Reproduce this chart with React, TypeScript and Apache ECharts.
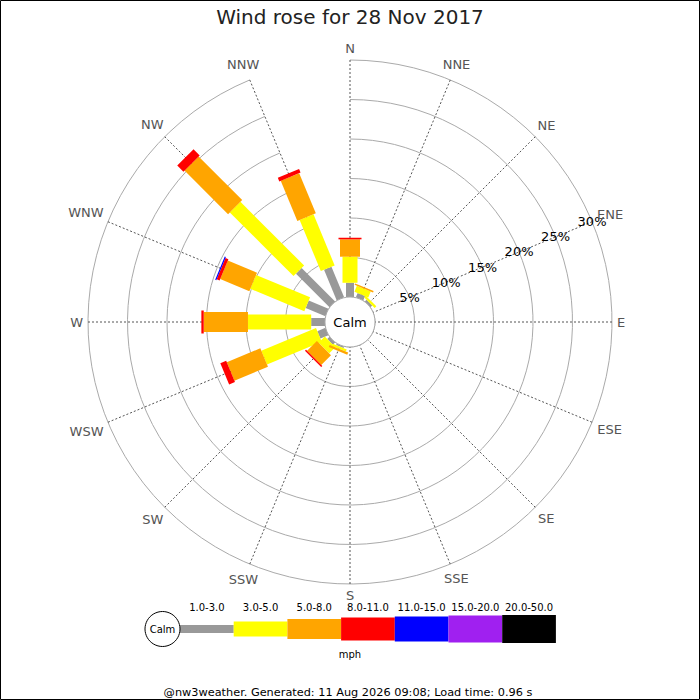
import React, { useEffect, useRef } from "react";
import * as echarts from "echarts";

const TITLE = "Wind rose for 28 Nov 2017";
const FOOTER = "@nw3weather. Generated: 11 Aug 2026 09:08; Load time: 0.96 s";
const DIRECTIONS = ["N", "NNE", "NE", "ENE", "E", "ESE", "SE", "SSE", "S", "SSW", "SW", "WSW", "W", "WNW", "NW", "NNW"];
const SPEED_BANDS = ["1.0-3.0", "3.0-5.0", "5.0-8.0", "8.0-11.0", "11.0-15.0", "15.0-20.0", "20.0-50.0"];
const UNIT = "mph";
const PERCENT_TICKS = [5, 10, 15, 20, 25, 30];

// percentage of time per direction, per speed band
const BAND_1_3 = [1.8, 0.6, 0.3, 0, 0, 0, 0, 0, 0, 0.2, 0.4, 1.1, 1.75, 2.7, 6.0, 4.2];
const BAND_3_5 = [3.3, 0.8, 0.3, 0, 0, 0, 0, 0, 0, 0.3, 1.1, 7.5, 8.0, 7.4, 11.4, 7.0];
const BAND_5_8 = [2.2, 0.2, 0, 0, 0, 0, 0, 0, 0, 0.3, 1.75, 4.6, 5.6, 4.0, 7.8, 5.5];
const BAND_8_11 = [0.2, 0, 0, 0, 0, 0, 0, 0, 0, 0, 0.2, 0.8, 0.3, 0.4, 1.1, 0.5];
const BAND_11_15 = [0, 0, 0, 0, 0, 0, 0, 0, 0, 0, 0, 0, 0, 0.15, 0, 0];
const BAND_15_20 = [0, 0, 0, 0, 0, 0, 0, 0, 0, 0, 0, 0, 0, 0, 0, 0];
const BAND_20_50 = [0, 0, 0, 0, 0, 0, 0, 0, 0, 0, 0, 0, 0, 0, 0, 0];
const BAND_VALUES = [BAND_1_3, BAND_3_5, BAND_5_8, BAND_8_11, BAND_11_15, BAND_15_20, BAND_20_50];

// styles
const BAND_COLORS = ["#999999", "#ffff00", "#ffa500", "#ff0000", "#0000ff", "#a020f0", "#000000"];
const BAND_WIDTHS = [8, 15, 20, 23, 25, 27, 28];
const FONT = "DejaVu Sans";
const CX = 350;
const CY = 322;
const R0 = 25;
const R1 = 262;

let measureCtx: CanvasRenderingContext2D | null = null;
function textWidth(text: string, font: string): number {
  if (!measureCtx) measureCtx = document.createElement("canvas").getContext("2d");
  if (!measureCtx) return text.length * 8;
  measureCtx.font = font;
  return measureCtx.measureText(text).width;
}

export default function App() {
  const ref = useRef<HTMLDivElement>(null);

  useEffect(() => {
    if (!ref.current) return;
    const chart = echarts.init(ref.current, null, { renderer: "svg" });

    // cumulative stacking built from the band arrays
    const cum = DIRECTIONS.map(() => 0);
    const barSeries = BAND_VALUES.map((vals, b) => {
      const data: number[][] = [];
      vals.forEach((v, i) => {
        const s = cum[i];
        cum[i] = s + v;
        if (v > 0) data.push([i, s, s + v]);
      });
      return {
        type: "custom",
        name: SPEED_BANDS[b],
        coordinateSystem: "polar",
        polarIndex: 0,
        encode: { angle: 0, radius: [1, 2] },
        z: 3,
        renderItem: (params: any, api: any) => {
          const dir = api.value(0);
          const s = api.value(1);
          const e = api.value(2);
          const cs = params.coordSys;
          const p0 = api.coord([s, dir]);
          const p1 = api.coord([e, dir]);
          const dx = p1[0] - cs.cx;
          const dy = p1[1] - cs.cy;
          const len = Math.hypot(dx, dy) || 1;
          const nx = -dy / len;
          const ny = dx / len;
          const h = BAND_WIDTHS[b] / 2;
          return {
            type: "polygon",
            shape: {
              points: [
                [p0[0] + nx * h, p0[1] + ny * h],
                [p1[0] + nx * h, p1[1] + ny * h],
                [p1[0] - nx * h, p1[1] - ny * h],
                [p0[0] - nx * h, p0[1] - ny * h],
              ],
            },
            style: { fill: BAND_COLORS[b] },
          };
        },
        data,
      };
    });

    const percentLabels = {
      type: "custom",
      coordinateSystem: "polar",
      polarIndex: 0,
      encode: { angle: 0, radius: 1 },
      z: 5,
      renderItem: (params: any, api: any) => {
        const p = api.coord([api.value(1), api.value(0)]);
        return {
          type: "text",
          x: p[0],
          y: p[1],
          style: {
            text: api.value(1) + "%",
            fill: "#000",
            font: `13px "${FONT}"`,
            align: "center",
            verticalAlign: "middle",
          },
        };
      },
      data: PERCENT_TICKS.map((t) => [3, t]),
    };

    const dirFont = `13px "${FONT}"`;
    const dirLabels = {
      type: "custom",
      coordinateSystem: "polar",
      polarIndex: 0,
      encode: { angle: 0, radius: 1 },
      z: 5,
      renderItem: (params: any, api: any) => {
        const i = api.value(0);
        const cs = params.coordSys;
        const p = api.coord([api.value(1), i]);
        const dx = p[0] - cs.cx;
        const dy = p[1] - cs.cy;
        const len = Math.hypot(dx, dy) || 1;
        const ux = dx / len;
        const uy = dy / len;
        const hw = textWidth(DIRECTIONS[i], dirFont) / 2;
        const hh = 6.5;
        const off = 5 + Math.abs(hw * ux) + Math.abs(hh * uy);
        return {
          type: "text",
          x: p[0] + ux * off,
          y: p[1] + uy * off,
          style: {
            text: DIRECTIONS[i],
            fill: "#555",
            font: dirFont,
            align: "center",
            verticalAlign: "middle",
          },
        };
      },
      data: DIRECTIONS.map((d, i) => [i, PERCENT_TICKS[PERCENT_TICKS.length - 1]]),
    };

    // legend graphics
    const legendX0 = 180;
    const legendW = 53.7;
    const legendY = 629;
    const legendEls: any[] = [];
    SPEED_BANDS.forEach((lab, b) => {
      const x = legendX0 + b * legendW;
      legendEls.push({
        type: "rect",
        shape: { x, y: legendY - BAND_WIDTHS[b] / 2, width: legendW, height: BAND_WIDTHS[b] },
        style: { fill: BAND_COLORS[b] },
        z: 100,
      });
      legendEls.push({
        type: "text",
        x: x + legendW / 2,
        y: 607,
        style: { text: lab, fill: "#000", font: `10px "${FONT}"`, align: "center", verticalAlign: "middle" },
        z: 100,
      });
    });

    chart.setOption({
      animation: false,
      backgroundColor: "#fff",
      textStyle: { fontFamily: FONT },
      title: {
        text: TITLE,
        left: "center",
        top: 2,
        textStyle: { fontFamily: FONT, fontSize: 20, fontWeight: "normal", color: "#222" },
      },
      polar: [{ center: [CX, CY], radius: [R0, R1] }],
      angleAxis: {
        polarIndex: 0,
        type: "category",
        data: DIRECTIONS,
        startAngle: 90,
        clockwise: true,
        boundaryGap: false,
        axisLine: { show: false },
        axisTick: { show: false },
        axisLabel: { show: false },
        splitLine: { show: true, lineStyle: { color: "#555", width: 1, type: [2, 2] } },
        z: 1,
      },
      radiusAxis: {
        polarIndex: 0,
        type: "value",
        min: 0,
        max: 30,
        interval: 5,
        axisLine: { show: false },
        axisTick: { show: false },
        axisLabel: { show: false },
        splitLine: { show: true, lineStyle: { color: "#aaa", width: 1 } },
        z: 1,
      },
      series: [...barSeries, percentLabels, dirLabels],
      graphic: [
        {
          type: "rect",
          shape: { x: 0.5, y: 0.5, width: 699, height: 699 },
          style: { fill: "none", stroke: "#000", lineWidth: 1 },
          z: 100,
        },
        {
          type: "circle",
          shape: { cx: CX, cy: CY, r: R0 },
          style: { fill: "#fff", stroke: "#aaa", lineWidth: 1 },
          z: 100,
        },
        {
          type: "text",
          x: CX,
          y: CY,
          style: { text: "Calm", fill: "#000", font: `13px "${FONT}"`, align: "center", verticalAlign: "middle" },
          z: 101,
        },
        ...legendEls,
        {
          type: "circle",
          shape: { cx: 162.5, cy: legendY, r: 17.5 },
          style: { fill: "#fff", stroke: "#000", lineWidth: 1 },
          z: 101,
        },
        {
          type: "text",
          x: 162.5,
          y: legendY,
          style: { text: "Calm", fill: "#000", font: `10px "${FONT}"`, align: "center", verticalAlign: "middle" },
          z: 102,
        },
        {
          type: "text",
          x: 350,
          y: 654,
          style: { text: UNIT, fill: "#000", font: `10px "${FONT}"`, align: "center", verticalAlign: "middle" },
          z: 100,
        },
        {
          type: "text",
          x: 348,
          y: 692,
          style: { text: FOOTER, fill: "#000", font: `11.3px "${FONT}"`, align: "center", verticalAlign: "middle" },
          z: 100,
        },
      ],
    });

    return () => chart.dispose();
  }, []);

  return (
    <div
      ref={ref}
      style={{ position: "absolute", left: 0, top: 0, width: 700, height: 700 }}
    />
  );
}
